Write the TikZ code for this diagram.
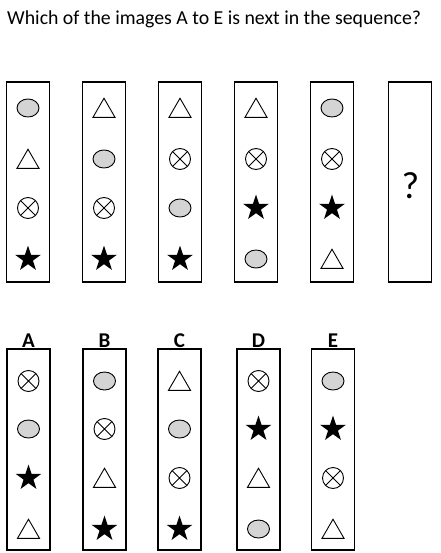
\documentclass[tikz,border=0pt]{standalone}
\usepackage{fontspec}
\setmainfont{Carlito}
\usetikzlibrary{shapes.geometric}

\begin{document}
\begin{tikzpicture}[x=1pt, y=-1pt]
    \tikzstyle{panel}=[draw, line width=1.2pt, minimum width=43pt, minimum height=200pt, inner sep=0pt]
    \tikzstyle{oval}=[draw, ellipse, line width=0.9pt, fill=black!17, minimum width=22pt, minimum height=18pt, inner sep=0pt]
    \tikzstyle{tri}=[draw, regular polygon, regular polygon sides=3, line width=0.9pt, minimum size=25.5pt, inner sep=0pt, yshift=-3pt]
    \tikzstyle{cross}=[draw, circle, line width=0.9pt, minimum size=21pt, inner sep=0pt,
        path picture={\draw[line width=0.9pt] (path picture bounding box.north west) -- (path picture bounding box.south east)
                                             (path picture bounding box.north east) -- (path picture bounding box.south west);}]
    \tikzstyle{blackstar}=[star, star points=5, star point ratio=2.6, fill=black, minimum size=27pt, inner sep=0pt]
    \tikzstyle{letter}=[anchor=base, inner sep=0pt, font={\fontsize{21}{21}\selectfont\bfseries}]
    \useasboundingbox (0,0) rectangle (440,553);

    \node[anchor=base west, inner sep=0pt, font=\fontsize{19.8}{20}\selectfont] (title) at (7,25) {Which of the images A to E is next in the sequence?};

    % the sequence
    \foreach \x/\a/\b/\c/\d [count=\i] in {28/oval/tri/cross/blackstar, 104/tri/oval/cross/blackstar,
        180/tri/cross/oval/blackstar, 256/tri/cross/blackstar/oval, 332/oval/cross/blackstar/tri} {
        \node[panel] (seq\i) at (\x,182) {};
        \node[\a] (seq\i-1) at (\x,108) {};
        \node[\b] (seq\i-2) at (\x,159) {};
        \node[\c] (seq\i-3) at (\x,208) {};
        \node[\d] (seq\i-4) at (\x,259) {};
    }
    \node[panel] (seq6) at (410,182) {};
    \node[font=\fontsize{38}{38}\selectfont, inner sep=0pt] (qmark) at (410.5,186) {?};

    % the answers
    \foreach \x/\n/\a/\b/\c/\d in {28.5/A/cross/oval/blackstar/tri, 104.5/B/oval/cross/tri/blackstar,
        179.5/C/tri/oval/cross/blackstar, 258.5/D/cross/blackstar/tri/oval, 333/E/oval/blackstar/cross/tri} {
        \node[letter] (name\n) at (\x,347) {\n};
        \node[panel, minimum height=201pt] (ans\n) at (\x,449.5) {};
        \node[\a] (ans\n-1) at (\x,381) {};
        \node[\b] (ans\n-2) at (\x,429) {};
        \node[\c] (ans\n-3) at (\x,478) {};
        \node[\d] (ans\n-4) at (\x,529) {};
    }
\end{tikzpicture}
\end{document}
